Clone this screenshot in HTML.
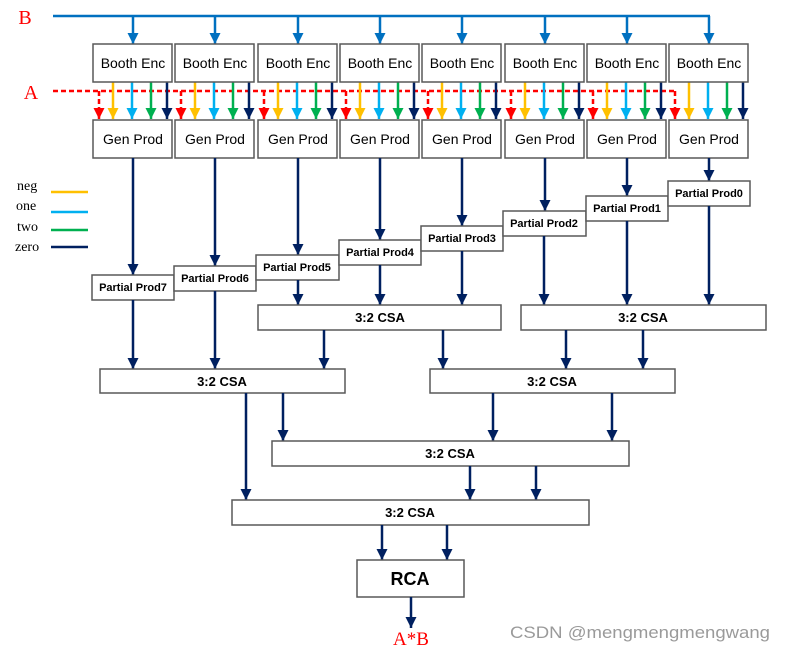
<!DOCTYPE html>
<html><head><meta charset="utf-8"><style>
html,body{margin:0;padding:0;background:#fff;}
svg{display:block;}
.bx{fill:#fff;stroke:#595959;stroke-width:1.5;}
.t{font-family:"Liberation Sans",sans-serif;font-size:14px;fill:#000;text-anchor:middle;}
.pp{font-family:"Liberation Sans",sans-serif;font-size:11px;font-weight:bold;fill:#000;text-anchor:middle;}
.cs{font-family:"Liberation Sans",sans-serif;font-size:13px;font-weight:bold;fill:#000;text-anchor:middle;}
.sf{font-family:"Liberation Serif",serif;}
.nv{stroke:#002060;stroke-width:2.5;fill:none;marker-end:url(#mn);}
</style></head><body>
<svg width="785" height="652" viewBox="0 0 785 652" xmlns="http://www.w3.org/2000/svg">
<defs>
<marker id="mn" markerUnits="userSpaceOnUse" markerWidth="11" markerHeight="11" refX="11" refY="5.5" orient="auto"><path d="M0,0L11,5.5L0,11z" fill="#002060"/></marker>
<marker id="mb" markerUnits="userSpaceOnUse" markerWidth="11" markerHeight="11" refX="11" refY="5.5" orient="auto"><path d="M0,0L11,5.5L0,11z" fill="#0070C0"/></marker>
<marker id="mr" markerUnits="userSpaceOnUse" markerWidth="11" markerHeight="11" refX="11" refY="5.5" orient="auto"><path d="M0,0L11,5.5L0,11z" fill="#FF0000"/></marker>
<marker id="my" markerUnits="userSpaceOnUse" markerWidth="11" markerHeight="11" refX="11" refY="5.5" orient="auto"><path d="M0,0L11,5.5L0,11z" fill="#FFC000"/></marker>
<marker id="ml" markerUnits="userSpaceOnUse" markerWidth="11" markerHeight="11" refX="11" refY="5.5" orient="auto"><path d="M0,0L11,5.5L0,11z" fill="#00B0F0"/></marker>
<marker id="mg" markerUnits="userSpaceOnUse" markerWidth="11" markerHeight="11" refX="11" refY="5.5" orient="auto"><path d="M0,0L11,5.5L0,11z" fill="#00B050"/></marker>
</defs>

<text x="25" y="24" class="sf" font-size="20" fill="#FF0000" text-anchor="middle">B</text>
<text x="31" y="99" class="sf" font-size="20" fill="#FF0000" text-anchor="middle">A</text>

<!-- B bus -->
<path d="M53,16H710" stroke="#0070C0" stroke-width="2.5" fill="none"/>
<g stroke="#0070C0" stroke-width="2.5" marker-end="url(#mb)">
<path d="M133,16V44"/><path d="M215,16V44"/><path d="M298,16V44"/><path d="M380,16V44"/>
<path d="M462,16V44"/><path d="M545,16V44"/><path d="M627,16V44"/><path d="M709,16V44"/>
</g>

<!-- A dashed -->
<path d="M53,91H675" stroke="#FF0000" stroke-width="2.5" stroke-dasharray="5 3" fill="none"/>
<g stroke="#FF0000" stroke-width="2.5" stroke-dasharray="5 3" marker-end="url(#mr)">
<path d="M99,91V119"/><path d="M181,91V119"/><path d="M264,91V119"/><path d="M346,91V119"/>
<path d="M428,91V119"/><path d="M511,91V119"/><path d="M593,91V119"/><path d="M675,91V119"/>
</g>
<g stroke="#FFC000" stroke-width="2.5" marker-end="url(#my)">
<path d="M113,82V119"/><path d="M195,82V119"/><path d="M278,82V119"/><path d="M360,82V119"/>
<path d="M442,82V119"/><path d="M525,82V119"/><path d="M607,82V119"/><path d="M689,82V119"/>
</g>
<g stroke="#00B0F0" stroke-width="2.5" marker-end="url(#ml)">
<path d="M132,82V119"/><path d="M214,82V119"/><path d="M297,82V119"/><path d="M379,82V119"/>
<path d="M461,82V119"/><path d="M544,82V119"/><path d="M626,82V119"/><path d="M708,82V119"/>
</g>
<g stroke="#00B050" stroke-width="2.5" marker-end="url(#mg)">
<path d="M151,82V119"/><path d="M233,82V119"/><path d="M316,82V119"/><path d="M398,82V119"/>
<path d="M480,82V119"/><path d="M563,82V119"/><path d="M645,82V119"/><path d="M727,82V119"/>
</g>
<g class="nv">
<path class="nv" d="M167,82V119"/><path class="nv" d="M249,82V119"/><path class="nv" d="M332,82V119"/><path class="nv" d="M414,82V119"/>
<path class="nv" d="M496,82V119"/><path class="nv" d="M579,82V119"/><path class="nv" d="M661,82V119"/><path class="nv" d="M743,82V119"/>
</g>

<!-- Booth Enc & Gen Prod boxes -->
<g>
<rect class="bx" x="93" y="44" width="79" height="38"/><rect class="bx" x="175" y="44" width="79" height="38"/>
<rect class="bx" x="258" y="44" width="79" height="38"/><rect class="bx" x="340" y="44" width="79" height="38"/>
<rect class="bx" x="422" y="44" width="79" height="38"/><rect class="bx" x="505" y="44" width="79" height="38"/>
<rect class="bx" x="587" y="44" width="79" height="38"/><rect class="bx" x="669" y="44" width="79" height="38"/>
<rect class="bx" x="93" y="120" width="79" height="38"/><rect class="bx" x="175" y="120" width="79" height="38"/>
<rect class="bx" x="258" y="120" width="79" height="38"/><rect class="bx" x="340" y="120" width="79" height="38"/>
<rect class="bx" x="422" y="120" width="79" height="38"/><rect class="bx" x="505" y="120" width="79" height="38"/>
<rect class="bx" x="587" y="120" width="79" height="38"/><rect class="bx" x="669" y="120" width="79" height="38"/>
</g>
<g class="t">
<text x="133" y="68">Booth Enc</text><text x="215" y="68">Booth Enc</text><text x="298" y="68">Booth Enc</text><text x="380" y="68">Booth Enc</text>
<text x="462" y="68">Booth Enc</text><text x="545" y="68">Booth Enc</text><text x="627" y="68">Booth Enc</text><text x="709" y="68">Booth Enc</text>
<text x="133" y="144">Gen Prod</text><text x="215" y="144">Gen Prod</text><text x="298" y="144">Gen Prod</text><text x="380" y="144">Gen Prod</text>
<text x="462" y="144">Gen Prod</text><text x="545" y="144">Gen Prod</text><text x="627" y="144">Gen Prod</text><text x="709" y="144">Gen Prod</text>
</g>

<!-- legend -->
<g class="sf" font-size="14" fill="#000">
<text x="17" y="190">neg</text><text x="16" y="210">one</text><text x="17" y="231">two</text><text x="15" y="251">zero</text>
</g>
<path d="M51,192H88" stroke="#FFC000" stroke-width="2.5"/>
<path d="M51,212H88" stroke="#00B0F0" stroke-width="2.5"/>
<path d="M51,230H88" stroke="#00B050" stroke-width="2.5"/>
<path d="M51,247H88" stroke="#002060" stroke-width="2.5"/>

<!-- Gen Prod -> PP -->
<path class="nv" d="M133,158V275"/><path class="nv" d="M215,158V266"/><path class="nv" d="M298,158V255"/>
<path class="nv" d="M380,158V240"/><path class="nv" d="M462,158V226"/><path class="nv" d="M545,158V211"/>
<path class="nv" d="M627,158V196"/><path class="nv" d="M709,158V181"/>

<!-- PP boxes -->
<rect class="bx" x="92" y="275" width="82" height="25"/><text class="pp" x="133" y="291">Partial Prod7</text>
<rect class="bx" x="174" y="266" width="82" height="25"/><text class="pp" x="215" y="282">Partial Prod6</text>
<rect class="bx" x="256" y="255" width="83" height="25"/><text class="pp" x="297" y="271">Partial Prod5</text>
<rect class="bx" x="339" y="240" width="82" height="25"/><text class="pp" x="380" y="256">Partial Prod4</text>
<rect class="bx" x="421" y="226" width="82" height="25"/><text class="pp" x="462" y="242">Partial Prod3</text>
<rect class="bx" x="503" y="211" width="83" height="25"/><text class="pp" x="544" y="227">Partial Prod2</text>
<rect class="bx" x="586" y="196" width="82" height="25"/><text class="pp" x="627" y="212">Partial Prod1</text>
<rect class="bx" x="668" y="181" width="82" height="25"/><text class="pp" x="709" y="197">Partial Prod0</text>

<!-- PP -> CSA1 -->
<path class="nv" d="M298,280V305"/><path class="nv" d="M380,265V305"/><path class="nv" d="M462,251V305"/>
<path class="nv" d="M544,236V305"/><path class="nv" d="M627,221V305"/><path class="nv" d="M709,206V305"/>
<rect class="bx" x="258" y="305" width="243" height="25"/><text class="cs" x="380" y="322">3:2 CSA</text>
<rect class="bx" x="521" y="305" width="245" height="25"/><text class="cs" x="643" y="322">3:2 CSA</text>

<!-- -> CSA2 -->
<path class="nv" d="M133,300V369"/><path class="nv" d="M215,291V369"/><path class="nv" d="M324,330V369"/>
<path class="nv" d="M443,330V369"/><path class="nv" d="M566,330V369"/><path class="nv" d="M643,330V369"/>
<rect class="bx" x="100" y="369" width="245" height="24"/><text class="cs" x="222" y="386">3:2 CSA</text>
<rect class="bx" x="430" y="369" width="245" height="24"/><text class="cs" x="552" y="386">3:2 CSA</text>

<!-- -> CSA3 -->
<path class="nv" d="M283,393V441"/><path class="nv" d="M493,393V441"/><path class="nv" d="M612,393V441"/>
<path class="nv" d="M246,393V500"/>
<rect class="bx" x="272" y="441" width="357" height="25"/><text class="cs" x="450" y="458">3:2 CSA</text>

<!-- -> CSA4 -->
<path class="nv" d="M470,466V500"/><path class="nv" d="M536,466V500"/>
<rect class="bx" x="232" y="500" width="357" height="25"/><text class="cs" x="410" y="517">3:2 CSA</text>

<!-- RCA -->
<path class="nv" d="M382,525V560"/><path class="nv" d="M447,525V560"/>
<rect class="bx" x="357" y="560" width="107" height="37"/>
<text x="410" y="585" font-family="Liberation Sans,sans-serif" font-size="18" font-weight="bold" text-anchor="middle">RCA</text>
<path class="nv" d="M411,597V628"/>
<text x="411" y="645" class="sf" font-size="19" fill="#FF0000" text-anchor="middle">A*B</text>

<text x="510" y="638" font-family="Liberation Sans,sans-serif" font-size="17" fill="#9a9a9a" textLength="260" lengthAdjust="spacingAndGlyphs">CSDN @mengmengmengwang</text>
</svg>
</body></html>
